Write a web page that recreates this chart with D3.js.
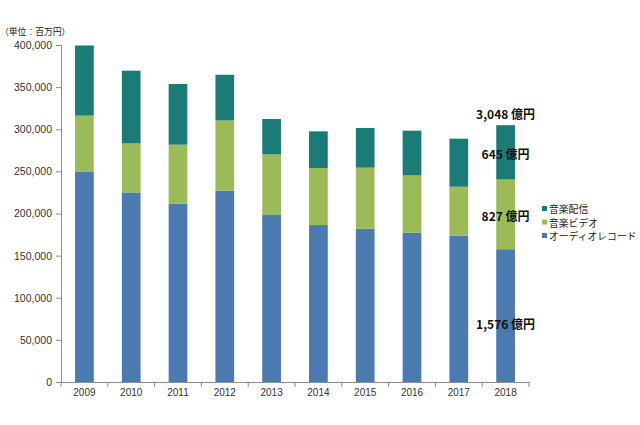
<!DOCTYPE html>
<html>
<head>
<meta charset="utf-8">
<script src="https://cdn.jsdelivr.net/npm/d3@7"></script>
<style>
  html, body { margin: 0; padding: 0; background: #fff; }
  svg { display: block; }
  text { font-family: "Noto Sans CJK JP", "Liberation Sans", sans-serif; }
</style>
</head>
<body>
<svg id="chart" width="640" height="425"></svg>
<script>
// ---- data (単位：百万円) ----
const years = ["2009","2010","2011","2012","2013","2014","2015","2016","2017","2018"];
const seriesNames = ["オーディオレコード", "音楽ビデオ", "音楽配信"];
const audio = [249300, 225000, 211600, 227100, 198200, 186300, 182000, 177200, 173600, 157600];
const video = [66800, 58200, 70100, 83400, 72000, 67700, 72400, 68000, 58200, 82700];
const distribution = [83300, 86300, 72000, 54200, 42000, 43500, 47100, 53100, 57000, 64500];
const yTicks = [0, 50000, 100000, 150000, 200000, 250000, 300000, 350000, 400000];
const unitLabel = "（単位：百万円）";
const annotations = [
  { text: "3,048 億円", value: 304800, kind: "total" },
  { text: "645 億円", value: 64500, kind: "distribution" },
  { text: "827 億円", value: 82700, kind: "video" },
  { text: "1,576 億円", value: 157600, kind: "audio" }
];
const colors = { "オーディオレコード": "#4a7ab0", "音楽ビデオ": "#9bbb59", "音楽配信": "#1b7b77" };

(function () {
// ---- layout ----
const svg = d3.select("#chart");
const mLeft = 61, mRight = 529, mTop = 45, mBottom = 382;

const x = d3.scaleBand().domain(years).range([mLeft, mRight]).paddingInner(0.6).paddingOuter(0.3);
const y = d3.scaleLinear().domain([0, 400000]).range([mBottom, mTop]);

const rows = years.map((yr, i) => ({
  year: yr,
  "オーディオレコード": audio[i],
  "音楽ビデオ": video[i],
  "音楽配信": distribution[i]
}));
const stacked = d3.stack().keys(seriesNames)(rows);

// bars
svg.append("g").selectAll("g").data(stacked).join("g")
  .attr("fill", d => colors[d.key])
  .selectAll("rect").data(d => d).join("rect")
  .attr("x", d => x(d.data.year))
  .attr("width", x.bandwidth())
  .attr("y", d => y(d[1]))
  .attr("height", d => y(d[0]) - y(d[1]));

// y axis
const yAxis = d3.axisLeft(y).tickValues(yTicks).tickSize(5).tickPadding(4)
  .tickFormat(d3.format(","));
const gy = svg.append("g").attr("transform", `translate(${mLeft},0)`).call(yAxis);
gy.select(".domain").attr("stroke", "#8c8c8c");
gy.selectAll(".tick line").attr("stroke", "#8c8c8c");
gy.selectAll(".tick text").attr("fill", "#333").style("font-size", "10.5px")
  .style("font-family", "'Liberation Sans', sans-serif");

// x axis (labels centered, ticks at category boundaries)
const xAxis = d3.axisBottom(x).tickSize(0).tickPadding(7);
const gx = svg.append("g").attr("transform", `translate(0,${mBottom})`).call(xAxis);
gx.select(".domain").attr("stroke", "#8c8c8c");
gx.selectAll(".tick text").attr("fill", "#333").style("font-size", "10px")
  .style("font-family", "'Liberation Sans', sans-serif");
const boundaries = d3.range(years.length + 1).map(i => mLeft + i * (mRight - mLeft) / years.length);
gx.selectAll("line.bnd").data(boundaries).join("line")
  .attr("class", "bnd")
  .attr("x1", d => d).attr("x2", d => d)
  .attr("y1", 0).attr("y2", 5)
  .attr("stroke", "#8c8c8c");

// unit label
svg.append("text")
  .attr("x", 0).attr("y", 31)
  .attr("text-anchor", "start")
  .attr("dominant-baseline", "central")
  .style("font-size", "8.8px")
  .attr("fill", "#222")
  .text(unitLabel);

// annotations on 2018
const last = years[years.length - 1];
const cx = x(last) + x.bandwidth() / 2;
const lastRow = stacked.map(s => s[s.length - 1]);
function annY(a) {
  if (a.kind === "total") return y(lastRow[2][1]) - 12;
  if (a.kind === "distribution") return y(lastRow[2][0]) - 26;
  if (a.kind === "video") return y(lastRow[1][0]) - 34;
  return y(lastRow[0][0]) - 59;
}
svg.append("g").selectAll("text").data(annotations).join("text")
  .attr("x", cx)
  .attr("y", d => annY(d))
  .attr("text-anchor", "middle")
  .attr("dominant-baseline", "central")
  .style("font-size", "12px")
  .style("font-weight", "bold")
  .attr("fill", "#111")
  .text(d => d.text);

// legend
const legendItems = ["音楽配信", "音楽ビデオ", "オーディオレコード"];
const lg = svg.append("g").attr("transform", "translate(542,209)");
const li = lg.selectAll("g").data(legendItems).join("g")
  .attr("transform", (d, i) => `translate(0,${i * 13.5})`);
li.append("rect").attr("x", 0).attr("y", -3).attr("width", 5).attr("height", 5)
  .attr("fill", d => colors[d]);
li.append("text").attr("x", 7).attr("y", 0)
  .attr("dominant-baseline", "central")
  .style("font-size", "9.8px")
  .attr("fill", "#222")
  .text(d => d);
})();
</script>
</body>
</html>
